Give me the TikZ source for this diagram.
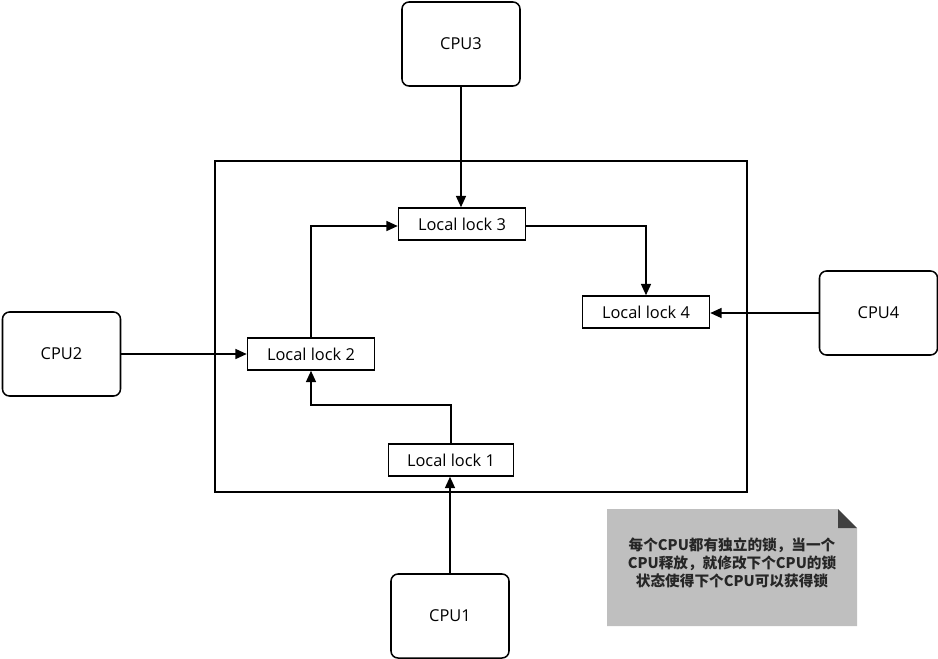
\documentclass[tikz,border=0pt]{standalone}
\usepackage{fontspec}
\setmainfont{Open Sans}
\newfontfamily\cjk{Noto Sans CJK SC}
\usetikzlibrary{positioning, arrows.meta, calc}

\begin{document}
\begin{tikzpicture}[
    x=0.03cm, y=-0.03cm,
    box/.style={draw, line width=1.3pt, align=center, font=\fontsize{14}{16}\selectfont},
    cpu/.style={box, rounded corners=6pt, minimum width=3.54cm, minimum height=2.52cm},
    lock/.style={box, minimum width=3.81cm, minimum height=0.96cm, inner sep=0pt},
    frame/.style={draw, line width=1.3pt, minimum width=15.96cm, minimum height=9.93cm},
    arr/.style={-{Triangle[length=3.4mm, width=3mm]}, line width=1.3pt},
    notetxt/.style={font=\cjk\bfseries\fontsize{12.5}{15.5}\selectfont, align=center, text=black!85}
]
\useasboundingbox (0,0) rectangle (938,658);
% shared lock area
\node[frame] (area) at (481,326.5) {};
% the four local locks
\node[lock] (l3) at (462,224) {Local lock 3};
\node[lock] (l4) at (646,312) {Local lock 4};
\node[lock] (l2) at (311,354) {Local lock 2};
\node[lock, minimum width=3.75cm] (l1) at (451,460) {Local lock 1};
% the cpus round the area
\node[cpu] (cpu3) at (461,44) {CPU3};
\node[cpu] (cpu2) at (61.5,354) {CPU2};
\node[cpu] (cpu4) at (878.5,313) {CPU4};
\node[cpu] (cpu1) at (450,616) {CPU1};
% each cpu to its own lock
\draw[arr] (cpu3.south) -- (cpu3.south |- l3.north);
\draw[arr] (cpu2.east) -- (l2.west);
\draw[arr] (cpu4.west) -- (l4.east |- cpu4.west);
\draw[arr] (cpu1.north) -- (cpu1.north |- l1.south);
% lock hands over to the next one
\draw[arr] (l1.north) |- ++(0,-38) -| (l2.south);
\draw[arr] (l2.north) |- ($(l3.west)+(0,2)$);
\draw[arr] ($(l3.east)+(0,2)$) -| (l4.north);
% note with folded corner
\fill[black!25] (607,509) -- (838,509) -- (857,528) -- (857,626) -- (607,626) -- cycle;
\fill[black!75] (838,509) -- (857,528) -- (838,528) -- cycle;
\node[notetxt] (note) at (732,563) {每个CPU都有独立的锁，当一个\\CPU释放，就修改下个CPU的锁\\状态使得下个CPU可以获得锁};
\end{tikzpicture}
\end{document}
